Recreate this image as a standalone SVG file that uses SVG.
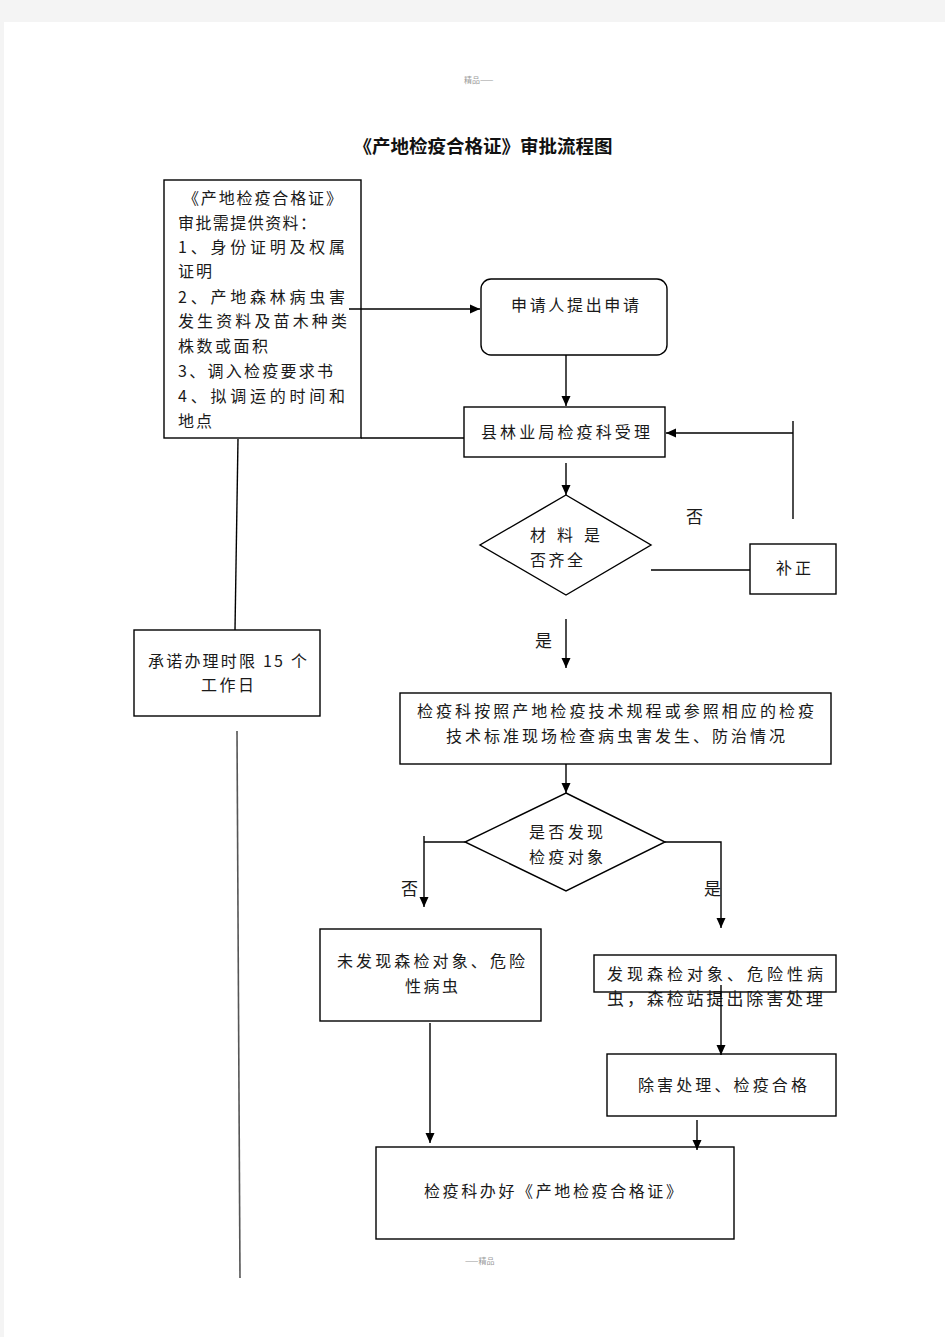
<svg xmlns="http://www.w3.org/2000/svg" width="945" height="1337" viewBox="0 0 945 1337">
<style>
.t{font-family:"Noto Sans CJK SC","Noto Sans",sans-serif;font-size:16px;fill:#1a1a1a}
.b{fill:#fff;stroke:#000;stroke-width:1.4}
.l{stroke:#000;stroke-width:1.4;fill:none}
.a{stroke:#000;stroke-width:1.4;fill:none;marker-end:url(#ah)}
.g{font-family:"Noto Sans CJK SC",sans-serif;font-size:8px;fill:#999}
</style>
<defs>
<marker id="ah" viewBox="0 0 10 10" refX="10" refY="5" markerWidth="10" markerHeight="10" markerUnits="userSpaceOnUse" orient="auto">
<path d="M0,0.5 L10,5 L0,9.5 Z" fill="#000"/>
</marker>
</defs>
<rect x="0" y="0" width="945" height="1337" fill="#f4f4f4"/>
<rect x="4" y="22" width="941" height="1315" fill="#fff"/>
<text class="g" x="464" y="83">精品——</text>
<text class="g" x="465" y="1264">——精品</text>
<text x="483" y="153" text-anchor="middle" style="font-family:'Noto Sans CJK SC',sans-serif;font-size:18px;font-weight:bold;fill:#111" textLength="259" lengthAdjust="spacingAndGlyphs">《产地检疫合格证》审批流程图</text>

<g id="requirements">
<rect class="b" x="164" y="180" width="197" height="258"/>
<text class="t" x="183" y="204" textLength="159" lengthAdjust="spacing">《产地检疫合格证》</text>
<text class="t" x="178" y="229" textLength="138" lengthAdjust="spacing">审批需提供资料：</text>
<text class="t" x="178" y="253" textLength="167" lengthAdjust="spacing">1、身份证明及权属</text>
<text class="t" x="178" y="277" textLength="34" lengthAdjust="spacing">证明</text>
<text class="t" x="178" y="303" textLength="167" lengthAdjust="spacing">2、产地森林病虫害</text>
<text class="t" x="178" y="327" textLength="169" lengthAdjust="spacing">发生资料及苗木种类</text>
<text class="t" x="178" y="352" textLength="90" lengthAdjust="spacing">株数或面积</text>
<text class="t" x="178" y="377" textLength="155" lengthAdjust="spacing">3、调入检疫要求书</text>
<text class="t" x="178" y="402" textLength="167" lengthAdjust="spacing">4、拟调运的时间和</text>
<text class="t" x="178" y="427" textLength="34" lengthAdjust="spacing">地点</text>
</g>

<g id="apply">
<rect class="b" x="481" y="279" width="186" height="76" rx="10"/>
<text class="t" x="511" y="311" textLength="128" lengthAdjust="spacing">申请人提出申请</text>
</g>

<g id="accept">
<rect class="b" x="464" y="407" width="201" height="50"/>
<text class="t" x="481" y="438" textLength="169" lengthAdjust="spacing">县林业局检疫科受理</text>
</g>

<g id="complete">
<polygon class="b" points="566,495 651,545 566,595 480,545"/>
<text class="t" x="530" y="541" textLength="70" lengthAdjust="spacing">材 料 是</text>
<text class="t" x="530" y="566" textLength="53" lengthAdjust="spacing">否齐全</text>
</g>

<g id="correct">
<rect class="b" x="750" y="544" width="86" height="50"/>
<text class="t" x="776" y="574" textLength="35" lengthAdjust="spacing">补正</text>
</g>

<text class="t" x="686" y="523" style="font-size:17px">否</text>
<text class="t" x="535" y="647" style="font-size:17px">是</text>

<g id="inspect">
<rect class="b" x="400" y="693" width="431" height="71"/>
<text class="t" x="417" y="717" textLength="397" lengthAdjust="spacing">检疫科按照产地检疫技术规程或参照相应的检疫</text>
<text class="t" x="446" y="742" textLength="339" lengthAdjust="spacing">技术标准现场检查病虫害发生、防治情况</text>
</g>

<g id="found">
<polygon class="b" points="566,793 665,842 566,891 465,842"/>
<text class="t" x="529" y="838" textLength="74" lengthAdjust="spacing">是否发现</text>
<text class="t" x="529" y="863" textLength="74" lengthAdjust="spacing">检疫对象</text>
</g>

<text class="t" x="401" y="895" style="font-size:17px">否</text>
<text class="t" x="704" y="895" style="font-size:17px">是</text>

<g id="notfound">
<rect class="b" x="320" y="929" width="221" height="92"/>
<text class="t" x="337" y="967" textLength="188" lengthAdjust="spacing">未发现森检对象、危险</text>
<text class="t" x="405" y="992" textLength="53" lengthAdjust="spacing">性病虫</text>
</g>

<g id="foundbox">
<rect class="b" x="594" y="955" width="242" height="37"/>
<text class="t" x="607" y="980" textLength="216" lengthAdjust="spacing">发现森检对象、危险性病</text>
<text class="t" x="607" y="1005" textLength="216" lengthAdjust="spacing" style="font-size:17px">虫，森检站提出除害处理</text>
</g>

<g id="treat">
<rect class="b" x="607" y="1054" width="229" height="62"/>
<text class="t" x="638" y="1091" textLength="169" lengthAdjust="spacing">除害处理、检疫合格</text>
</g>

<g id="issue">
<rect class="b" x="376" y="1147" width="358" height="92"/>
<text class="t" x="424" y="1197" textLength="258" lengthAdjust="spacing">检疫科办好《产地检疫合格证》</text>
</g>

<g id="promise">
<rect class="b" x="134" y="630" width="186" height="86"/>
<text class="t" x="148" y="667" textLength="159" lengthAdjust="spacing">承诺办理时限 15 个</text>
<text class="t" x="201" y="691" textLength="53" lengthAdjust="spacing">工作日</text>
</g>

<g id="connectors">
<line class="a" x1="349" y1="309" x2="480" y2="309"/>
<line class="a" x1="566" y1="355" x2="566" y2="406"/>
<line class="l" x1="361" y1="438" x2="464" y2="438"/>
<line class="l" x1="238" y1="439" x2="235" y2="630"/>
<line class="a" x1="566" y1="463" x2="566" y2="495"/>
<line class="l" x1="651" y1="570" x2="750" y2="570"/>
<line class="l" x1="793" y1="421" x2="793" y2="519"/>
<line class="a" x1="793" y1="433" x2="666" y2="433"/>
<line class="a" x1="566" y1="619" x2="566" y2="668"/>
<line class="a" x1="566" y1="764" x2="566" y2="793"/>
<line class="l" x1="465" y1="842" x2="424" y2="842"/>
<line class="a" x1="424" y1="836" x2="424" y2="907"/>
<polyline class="a" points="665,842 721,842 721,928"/>
<line class="a" x1="721" y1="985" x2="721" y2="1055"/>
<line class="a" x1="430" y1="1023" x2="430" y2="1143"/>
<line class="a" x1="697" y1="1120" x2="697" y2="1150"/>
<line x1="237" y1="731" x2="240" y2="1278" stroke="#555" stroke-width="1.6"/>
</g>
</svg>
